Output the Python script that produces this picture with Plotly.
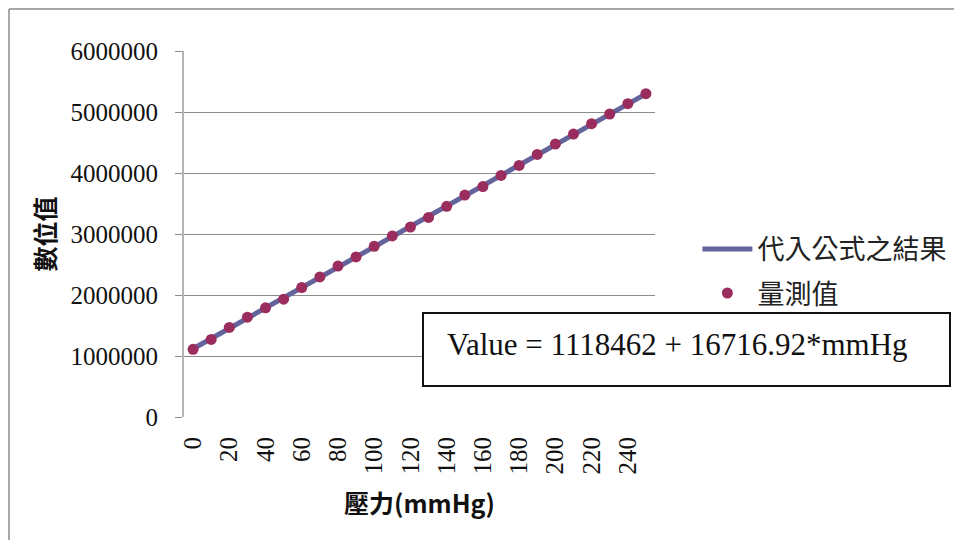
import plotly.graph_objects as go

pressure = [0, 10, 20, 30, 40, 50, 60, 70, 80, 90, 100, 110, 120, 130, 140, 150,
            160, 170, 180, 190, 200, 210, 220, 230, 240, 250]
measured = [1110000, 1272000, 1468000, 1637000, 1789000, 1931000, 2123000, 2297000,
            2475000, 2624000, 2799000, 2968000, 3115000, 3272000, 3453000, 3638000,
            3778000, 3961000, 4125000, 4305000, 4475000, 4639000, 4808000, 4967000,
            5136000, 5300000]
fitted = [1118462, 1285631, 1452800, 1619970, 1787139, 1954308, 2121477, 2288646,
          2455816, 2622985, 2790154, 2957323, 3124492, 3291662, 3458831, 3626000,
          3793169, 3960338, 4127508, 4294677, 4461846, 4629015, 4796184, 4963354,
          5130523, 5297692]
x_tick_vals = [0, 20, 40, 60, 80, 100, 120, 140, 160, 180, 200, 220, 240]
y_tick_vals = [0, 1000000, 2000000, 3000000, 4000000, 5000000, 6000000]
equation = "Value = 1118462 + 16716.92*mmHg"

LINE_C = "#64649C"
MARK_C = "#9B2D5E"
CJK = "Noto Sans CJK TC"
SERIF = "Liberation Serif, Times New Roman, serif"

fig = go.Figure()
fig.add_trace(go.Scatter(
    x=pressure, y=fitted, mode="lines", name="代入公式之結果", legendgroup="fit",
    line=dict(color=LINE_C, width=5),
))
fig.add_trace(go.Scatter(
    x=pressure, y=measured, mode="markers", name="量測值", legendgroup="meas",
    marker=dict(color=MARK_C, size=11, line=dict(width=0)),
))

fig.update_layout(
    width=954, height=540,
    margin=dict(l=184, r=299, t=51, b=123, autoexpand=False),
    plot_bgcolor="white", paper_bgcolor="white",
    showlegend=True,
    legend=dict(
        x=1.09, y=0.525, xanchor="left", yanchor="top",
        font=dict(family=CJK, size=27, color="#222"),
        bgcolor="rgba(0,0,0,0)", itemwidth=50, tracegroupgap=6,
    ),
    xaxis=dict(
        range=[-5, 255], tickmode="array", tickvals=x_tick_vals,
        ticktext=[str(v) for v in x_tick_vals], tickangle=-90,
        showgrid=False, zeroline=False, showline=False, ticks="",
        ticklabelstandoff=14, automargin=False,
        tickfont=dict(family=SERIF, size=25, color="#111"),
        title=dict(text="壓力(mmHg)", standoff=21,
                   font=dict(family=CJK, size=25, color="#111", weight="bold")),
    ),
    yaxis=dict(
        range=[0, 6000000], tickmode="array", tickvals=y_tick_vals,
        ticktext=[str(v) for v in y_tick_vals],
        showgrid=True, gridcolor="#8c8c8c", gridwidth=1,
        zeroline=False, showline=True, linecolor="#b4b4b4", linewidth=2,
        ticks="outside", ticklen=7, tickcolor="#8c8c8c", ticklabelstandoff=12,
        automargin=False,
        tickfont=dict(family=SERIF, size=25, color="#111"),
        title=dict(text="數位值", standoff=8,
                   font=dict(family=CJK, size=25, color="#111", weight="bold")),
    ),
    shapes=[
        dict(type="line", xref="paper", yref="paper",
             x0=(9 - 184) / 471, x1=(960 - 184) / 471, y0=(417 - 9) / 366, y1=(417 - 9) / 366,
             line=dict(color="#8a8a8a", width=1.5)),
        dict(type="line", xref="paper", yref="paper",
             x0=(9 - 184) / 471, x1=(9 - 184) / 471, y0=(417 - 9) / 366, y1=(417 - 545) / 366,
             line=dict(color="#8a8a8a", width=1.5)),
        dict(type="rect", xref="paper", yref="paper",
             x0=(423 - 184) / 471, x1=(950 - 184) / 471,
             y0=(417 - 386) / 366, y1=(417 - 313) / 366,
             fillcolor="white", line=dict(color="#111", width=2), layer="above"),
    ],
    annotations=[
        dict(text=equation, xref="paper", yref="paper",
             x=(445 - 184) / 471, y=(417 - 344) / 366, xanchor="left", yanchor="middle",
             showarrow=False, font=dict(family=SERIF, size=31, color="#111")),
    ],
)

fig.write_html("out.html")
